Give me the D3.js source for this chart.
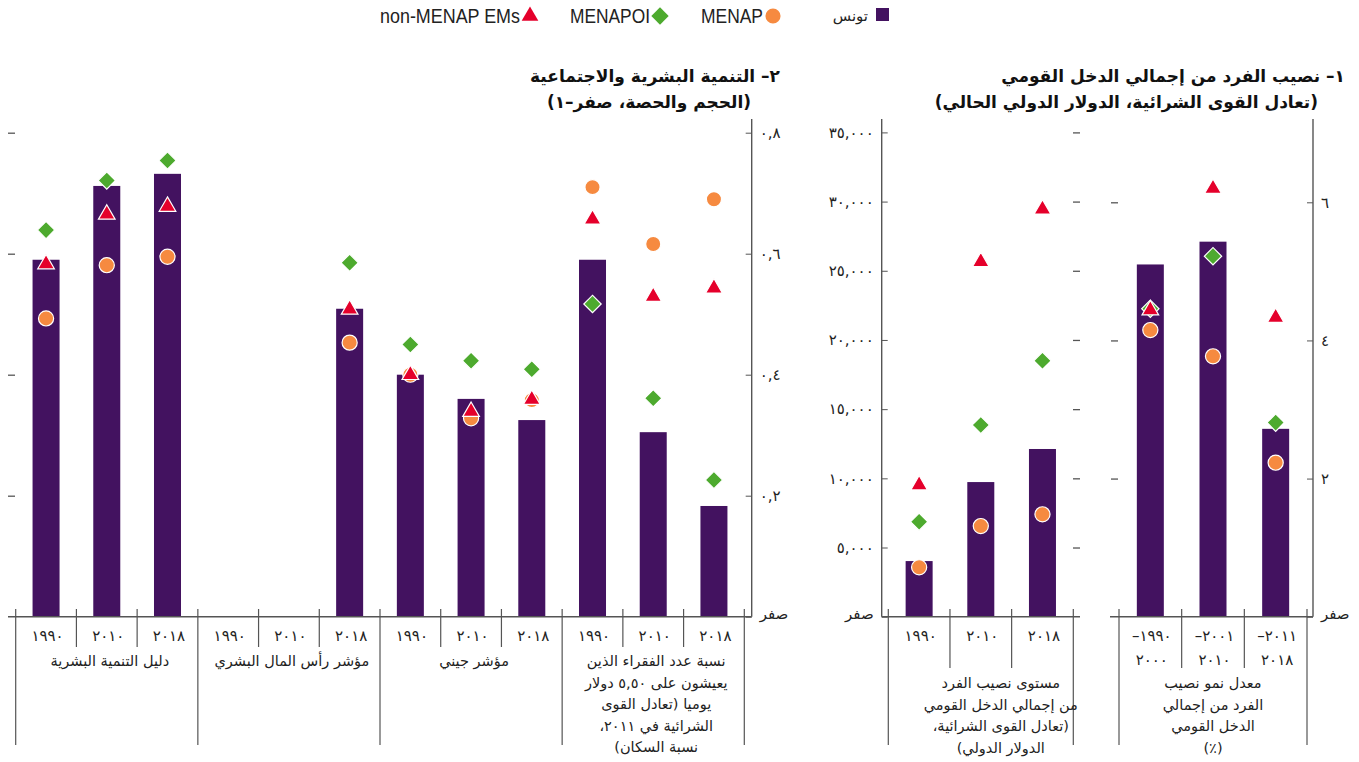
<!DOCTYPE html>
<html lang="ar">
<head>
<meta charset="utf-8">
<script src="https://cdn.jsdelivr.net/npm/d3@7"></script>
<style>
  html, body { margin: 0; padding: 0; background: #fff; }
  svg { display: block; }
  .ar { font-family: "DejaVu Sans", "Noto Sans", sans-serif; }
  .lat { font-family: "Liberation Sans Narrow", "Liberation Sans", Arial, sans-serif; }
</style>
</head>
<body>
<svg id="chart" width="1359" height="762"></svg>
<script>
// ---- Series names and colours ----
const seriesNames = ["تونس", "MENAP", "MENAPOI", "non-MENAP EMs"];
const colors = { tunisia: "#431260", menap: "#F68A40", menapoi: "#4DAA2E", nonMenap: "#E5002B" };

// ---- Panel 1: GNI per capita growth (%) ----
const growthPeriods = [["–١٩٩٠", "٢٠٠٠"], ["–٢٠٠١", "٢٠١٠"], ["–٢٠١١", "٢٠١٨"]];
const growthTunisia  = [5.10, 5.43, 2.72];
const growthMenap    = [4.15, 3.77, 2.23];
const growthMenapoi  = [4.46, 5.22, 2.81];
const growthNonMenap = [4.44, 6.20, 4.33];
const growthTicks      = [0, 2, 4, 6];
const growthTickLabels = ["صفر", "٢", "٤", "٦"];
const growthGroupLabel = ["معدل نمو نصيب", "الفرد من إجمالي", "الدخل القومي", "(٪)"];

// ---- Panel 1: GNI per capita level (PPP, international $) ----
const levelYears    = ["١٩٩٠", "٢٠١٠", "٢٠١٨"];
const levelTunisia  = [4020, 9730, 12120];
const levelMenap    = [3570, 6550, 7400];
const levelMenapoi  = [6860, 13850, 18500];
const levelNonMenap = [9510, 25650, 29450];
const levelTicks      = [0, 5000, 10000, 15000, 20000, 25000, 30000, 35000];
const levelTickLabels = ["صفر", "٥,٠٠٠", "١٠,٠٠٠", "١٥,٠٠٠", "٢٠,٠٠٠", "٢٥,٠٠٠", "٣٠,٠٠٠", "٣٥,٠٠٠"];
const levelGroupLabel = ["مستوى نصيب الفرد", "من إجمالي الدخل القومي", "(تعادل القوى الشرائية،", "الدولار الدولي)"];

// ---- Panel 2: human and social development (0–1) ----
const socialYears = ["١٩٩٠", "٢٠١٠", "٢٠١٨", "١٩٩٠", "٢٠١٠", "٢٠١٨", "١٩٩٠", "٢٠١٠", "٢٠١٨", "١٩٩٠", "٢٠١٠", "٢٠١٨"];
const socialTunisia  = [0.590, 0.712, 0.732, null, null, 0.509, 0.400, 0.360, 0.325, 0.590, 0.305, 0.183];
const socialMenap    = [0.493, 0.581, 0.595, null, null, 0.453, 0.400, 0.328, 0.358, 0.710, 0.616, 0.690];
const socialMenapoi  = [0.639, 0.721, 0.754, null, null, 0.585, 0.450, 0.423, 0.409, 0.517, 0.361, 0.226];
const socialNonMenap = [0.583, 0.665, 0.678, null, null, 0.508, 0.400, 0.339, 0.359, 0.657, 0.529, 0.543];
const socialTicks      = [0, 0.2, 0.4, 0.6, 0.8];
const socialTickLabels = ["صفر", "٠,٢", "٠,٤", "٠,٦", "٠,٨"];
const socialGroupLabels = [
  ["دليل التنمية البشرية"],
  ["مؤشر رأس المال البشري"],
  ["مؤشر جيني"],
  ["نسبة عدد الفقراء الذين", "يعيشون على ٥,٥٠ دولار", "يوميا (تعادل القوى", "الشرائية في ٢٠١١،", "نسبة السكان)"]
];

// ---- Titles ----
const title1 = ["١–  نصيب الفرد من إجمالي الدخل القومي", "(تعادل القوى الشرائية، الدولار الدولي الحالي)"];
const title2 = ["٢–  التنمية البشرية والاجتماعية", "(الحجم والحصة، صفر–١)"];

// ---- Layout ----
const svg = d3.select("#chart");
const baseY = 616.7, axisTopY = 119;
const barW = 27;
const axisColor = "#555";

const symCircle   = d3.symbol().type(d3.symbolCircle).size(180);
const symDiamond  = d3.symbol().type(d3.symbolSquare).size(150);
const symTriangle = d3.symbol().type(d3.symbolTriangle).size(120);

function rtlText(sel) {
  return sel.attr("class", "ar").attr("direction", "rtl").style("direction", "rtl").style("unicode-bidi", "embed");
}

function drawPanel(p) {
  const g = svg.append("g");
  const x = d3.scaleBand().domain(d3.range(p.tunisia.length)).range(p.xRange).paddingInner(0).paddingOuter(0);
  const y = d3.scaleLinear().domain(p.yDomain).range([baseY, p.yTop]);

  // bars
  g.selectAll("rect.bar").data(p.tunisia.map((v, i) => ({ v, i })).filter(d => d.v != null))
    .join("rect").attr("class", "bar")
    .attr("x", d => x(d.i) + x.bandwidth() / 2 - barW / 2)
    .attr("width", barW)
    .attr("y", d => y(d.v))
    .attr("height", d => y(0) - y(d.v))
    .attr("fill", colors.tunisia);

  // markers: circle, diamond, triangle
  const layers = [
    { vals: p.menap, sym: symCircle, color: colors.menap, rot: 0 },
    { vals: p.menapoi, sym: symDiamond, color: colors.menapoi, rot: 45 },
    { vals: p.nonMenap, sym: symTriangle, color: colors.nonMenap, rot: 0 }
  ];
  layers.forEach(L => {
    g.append("g").selectAll("path")
      .data(L.vals.map((v, i) => ({ v, i })).filter(d => d.v != null))
      .join("path")
      .attr("d", L.sym())
      .attr("transform", d => `translate(${x(d.i) + x.bandwidth() / 2},${y(d.v)}) rotate(${L.rot})`)
      .attr("fill", L.color)
      .attr("stroke", "#fff")
      .attr("stroke-width", 1.2);
  });

  // value axis with labels
  const axis = (p.axisSide === "right" ? d3.axisRight(y) : d3.axisLeft(y))
    .tickValues(p.ticks)
    .tickFormat((d, i) => p.tickLabels[i])
    .tickSizeInner(-6).tickSizeOuter(0).tickPadding(8);
  const ag = g.append("g").attr("transform", `translate(${p.axisX},0)`).call(axis);
  ag.select(".domain").remove();
  ag.selectAll(".tick line").attr("stroke", axisColor);
  ag.selectAll(".tick text").attr("class", "ar").attr("font-size", 15).attr("fill", "#222")
    .attr("dy", (d) => d === 0 ? "0.1em" : "0.32em")
    .style("letter-spacing", d => d === 0 ? "0px" : "2.5px");
  g.append("line").attr("x1", p.axisX).attr("x2", p.axisX).attr("y1", axisTopY).attr("y2", baseY)
    .attr("stroke", axisColor).attr("stroke-width", 1.4);

  // unlabeled ticks on the far side
  const far = (p.axisSide === "right" ? d3.axisRight(y) : d3.axisLeft(y))
    .tickValues(p.ticks.filter(t => t !== 0)).tickFormat("").tickSizeInner(7).tickSizeOuter(0);
  const fg = g.append("g").attr("transform", `translate(${p.farX},0)`).call(far);
  fg.select(".domain").remove();
  fg.selectAll(".tick line").attr("stroke", axisColor).attr("stroke-width", 1.3);

  // baseline
  g.append("line").attr("x1", p.baseX[0]).attr("x2", p.baseX[1]).attr("y1", baseY).attr("y2", baseY)
    .attr("stroke", axisColor).attr("stroke-width", 1.6);

  // category dividers
  const n = p.tunisia.length;
  d3.range(n + 1).forEach(k => {
    const xx = k < n ? x(k) : x(n - 1) + x.bandwidth();
    const long = k % p.groupSize === 0;
    g.append("line").attr("x1", xx).attr("x2", xx).attr("y1", 609)
      .attr("y2", long ? 745 : p.shortEnd)
      .attr("stroke", axisColor).attr("stroke-width", 1.2);
  });

  // category labels (digits, laid out left to right)
  p.catLabels.forEach((lab, i) => {
    const lines = Array.isArray(lab) ? lab : [lab];
    lines.forEach((t, j) => {
      g.append("text").attr("class", "ar").attr("x", x(i) + x.bandwidth() / 2 + 1.5).attr("y", 641 + j * 24)
        .attr("text-anchor", "middle").attr("font-size", 15).attr("fill", "#222")
        .style("letter-spacing", "3px").text(t);
    });
  });

  // group labels
  p.groupLabels.forEach((lines, gi) => {
    const x0 = x(gi * p.groupSize), x1 = x(gi * p.groupSize + p.groupSize - 1) + x.bandwidth();
    lines.forEach((t, j) => {
      rtlText(g.append("text")).attr("x", (x0 + x1) / 2 + p.groupShift).attr("y", p.groupY + j * p.groupLine)
        .attr("text-anchor", "middle").attr("font-size", 14.5).attr("fill", "#222").text(t);
    });
  });
}

// growth panel
drawPanel({
  tunisia: growthTunisia, menap: growthMenap, menapoi: growthMenapoi, nonMenap: growthNonMenap,
  xRange: [1119, 1307], yDomain: [0, 6], yTop: 202.3,
  ticks: growthTicks, tickLabels: growthTickLabels,
  axisSide: "right", axisX: 1313, farX: 1111,
  baseX: [1110, 1313], groupSize: 3, shortEnd: 668,
  catLabels: growthPeriods, groupLabels: [growthGroupLabel], groupY: 688, groupLine: 21.7, groupShift: 0
});

// level panel
drawPanel({
  tunisia: levelTunisia, menap: levelMenap, menapoi: levelMenapoi, nonMenap: levelNonMenap,
  xRange: [888.3, 1073.3], yDomain: [0, 35000], yTop: 132.4,
  ticks: levelTicks, tickLabels: levelTickLabels,
  axisSide: "left", axisX: 881.7, farX: 1080,
  baseX: [881.7, 1080], groupSize: 3, shortEnd: 668,
  catLabels: levelYears, groupLabels: [levelGroupLabel], groupY: 688, groupLine: 21.7, groupShift: 20
});

// social panel
drawPanel({
  tunisia: socialTunisia, menap: socialMenap, menapoi: socialMenapoi, nonMenap: socialNonMenap,
  xRange: [15.7, 744.3], yDomain: [0, 0.8], yTop: 132.7,
  ticks: socialTicks, tickLabels: socialTickLabels,
  axisSide: "right", axisX: 751.7, farX: 8,
  baseX: [8, 751.7], groupSize: 3, shortEnd: 647,
  catLabels: socialYears, groupLabels: socialGroupLabels, groupY: 666, groupLine: 21.5, groupShift: 3
});

// titles
[[title1, 1345, 1318], [title2, 780, 751]].forEach(([lines, xa, xb]) => {
  rtlText(svg.append("text")).attr("x", xa).attr("y", 82).attr("text-anchor", "start")
    .attr("font-size", 17).attr("font-weight", "bold").attr("fill", "#111").text(lines[0]);
  rtlText(svg.append("text")).attr("x", xb).attr("y", 108).attr("text-anchor", "start")
    .attr("font-size", 17).attr("font-weight", "bold").attr("fill", "#111").text(lines[1]);
});

// legend
const legend = svg.append("g");
legend.append("rect").attr("x", 876).attr("y", 8).attr("width", 13).attr("height", 13).attr("fill", colors.tunisia);
rtlText(legend.append("text")).attr("x", 868).attr("y", 21).attr("text-anchor", "start")
  .attr("font-size", 15).attr("fill", "#222").text(seriesNames[0]);
const legItems = [
  { sym: symCircle, color: colors.menap, rot: 0, cx: 773, name: seriesNames[1], w: 62 },
  { sym: symDiamond, color: colors.menapoi, rot: 45, cx: 660, name: seriesNames[2], w: 80 },
  { sym: symTriangle, color: colors.nonMenap, rot: 0, cx: 530, name: seriesNames[3], w: 140 }
];
legItems.forEach(it => {
  legend.append("path").attr("d", it.sym()).attr("fill", it.color)
    .attr("transform", `translate(${it.cx},16) rotate(${it.rot})`);
  legend.append("text").attr("class", "lat").attr("x", it.cx - 10).attr("y", 23)
    .attr("text-anchor", "end").attr("font-size", 20).attr("fill", "#222")
    .attr("textLength", it.w).attr("lengthAdjust", "spacingAndGlyphs").text(it.name);
});
</script>
</body>
</html>
